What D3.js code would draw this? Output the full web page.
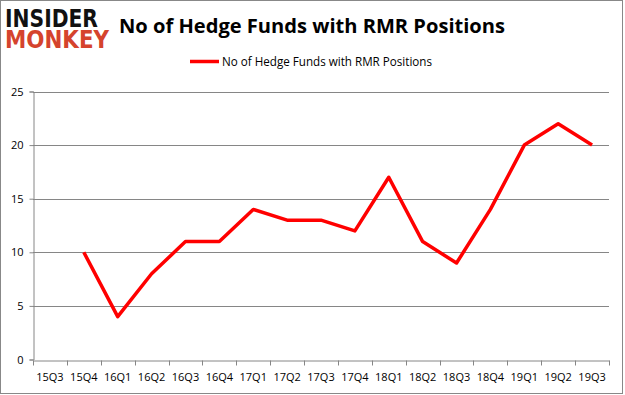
<!DOCTYPE html>
<html>
<head>
<meta charset="utf-8">
<script src="https://d3js.org/d3.v7.min.js"></script>
<style>
  body { margin: 0; background: #fff; }
  svg { display: block; }
</style>
</head>
<body>
<div id="chart"></div>
<script>
// DATA
const quarters = ["15Q3", "15Q4", "16Q1", "16Q2", "16Q3", "16Q4", "17Q1", "17Q2", "17Q3",
                  "17Q4", "18Q1", "18Q2", "18Q3", "18Q4", "19Q1", "19Q2", "19Q3"];
const funds = [null, 10, 4, 8, 11, 11, 14, 13, 13, 12, 17, 11, 9, 14, 20, 22, 20];
const yTicks = [0, 5, 10, 15, 20, 25];
const seriesName = "No of Hedge Funds with RMR Positions";

const W = 625, H = 395;
const margin = { top: 91.5, right: 16, bottom: 35.5, left: 33 };

const svg = d3.select("#chart").append("svg")
  .attr("width", W)
  .attr("height", H);

// outer border
svg.append("rect")
  .attr("x", 0.5).attr("y", 0.5)
  .attr("width", W - 3).attr("height", H - 2)
  .attr("fill", "#fff")
  .attr("stroke", "#888")
  .attr("stroke-width", 1);

const x = d3.scaleBand()
  .domain(quarters)
  .range([margin.left, W - margin.right]);

const y = d3.scaleLinear()
  .domain([0, 25])
  .range([H - margin.bottom, margin.top]);

// gridlines
svg.append("g")
  .selectAll("line")
  .data(yTicks.filter(d => d > 0))
  .join("line")
  .attr("x1", margin.left)
  .attr("x2", W - margin.right)
  .attr("y1", d => Math.round(y(d)) + 0.5)
  .attr("y2", d => Math.round(y(d)) + 0.5)
  .attr("stroke", "#868686")
  .attr("stroke-width", 1);

// y axis
const yAxis = svg.append("g")
  .attr("transform", `translate(${margin.left + 0.5},0)`)
  .call(d3.axisLeft(y).tickValues(yTicks).tickSize(4).tickPadding(6));
yAxis.selectAll("text")
  .attr("font-family", "'Open Sans', 'DejaVu Sans', sans-serif")
  .attr("font-size", 11)
  .attr("fill", "#000");

// x axis
const xAxis = svg.append("g")
  .attr("transform", `translate(0,${Math.round(y(0)) + 0.5})`)
  .call(d3.axisBottom(x).tickSize(0).tickPadding(13));
xAxis.selectAll("text")
  .attr("font-family", "'Open Sans', 'DejaVu Sans', sans-serif")
  .attr("font-size", 11)
  .attr("fill", "#000");
// category boundary ticks
xAxis.append("g")
  .selectAll("line")
  .data(quarters.concat(["end"]))
  .join("line")
  .attr("x1", (d, i) => Math.round(margin.left + i * x.step()) + 0.5)
  .attr("x2", (d, i) => Math.round(margin.left + i * x.step()) + 0.5)
  .attr("y1", 0)
  .attr("y2", 5)
  .attr("stroke", "#868686");

svg.selectAll(".domain").attr("stroke", "#868686");
svg.selectAll(".tick line").attr("stroke", "#868686");

// line
const line = d3.line()
  .defined(d => d != null)
  .x((d, i) => x(quarters[i]) + x.bandwidth() / 2)
  .y(d => y(d));

svg.append("path")
  .datum(funds)
  .attr("fill", "none")
  .attr("stroke", "#ff0000")
  .attr("stroke-width", 3.5)
  .attr("stroke-linejoin", "round")
  .attr("d", line);

// title
svg.append("text")
  .attr("x", 119)
  .attr("y", 33)
  .attr("font-family", "'Open Sans', 'DejaVu Sans', sans-serif")
  .attr("font-weight", "bold")
  .attr("font-size", 20)
  .attr("textLength", 386)
  .attr("lengthAdjust", "spacingAndGlyphs")
  .attr("fill", "#000")
  .text(seriesName);

// legend
svg.append("line")
  .attr("x1", 190).attr("x2", 219)
  .attr("y1", 61.5).attr("y2", 61.5)
  .attr("stroke", "#ff0000")
  .attr("stroke-width", 3.5);
svg.append("text")
  .attr("x", 222)
  .attr("y", 66)
  .attr("font-family", "'Open Sans', 'DejaVu Sans', sans-serif")
  .attr("font-size", 12)
  .attr("textLength", 210)
  .attr("lengthAdjust", "spacingAndGlyphs")
  .attr("fill", "#000")
  .text(seriesName);

// logo
svg.append("text")
  .attr("x", 5).attr("y", 27)
  .attr("font-family", "'DejaVu Sans', sans-serif")
  .attr("font-weight", "bold")
  .attr("font-size", 25)
  .attr("textLength", 93)
  .attr("lengthAdjust", "spacingAndGlyphs")
  .attr("fill", "#111")
  .text("INSIDER");
svg.append("text")
  .attr("x", 5).attr("y", 48)
  .attr("font-family", "'DejaVu Sans', sans-serif")
  .attr("font-weight", "bold")
  .attr("font-size", 24)
  .attr("textLength", 104)
  .attr("lengthAdjust", "spacingAndGlyphs")
  .attr("fill", "#d5432d")
  .text("MONKEY");
</script>
</body>
</html>
